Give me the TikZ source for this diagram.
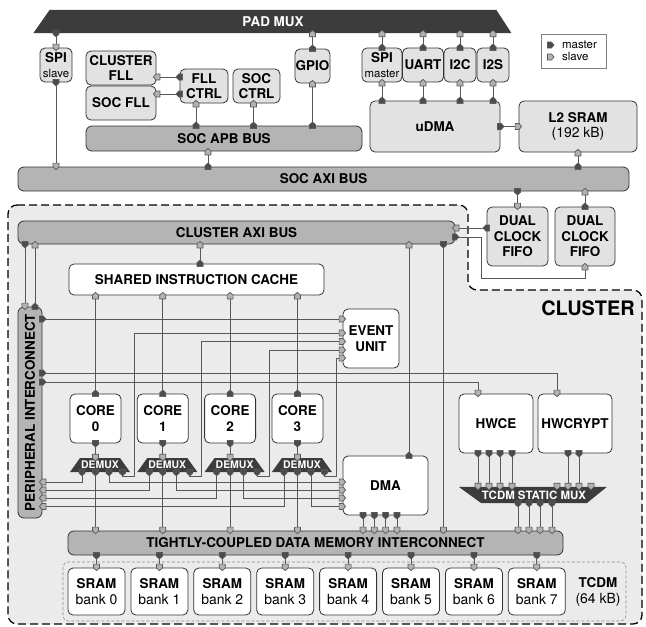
\documentclass[tikz,border=0pt]{standalone}
\usepackage{fontspec}
\setmainfont{TeX Gyre Heros}
\usetikzlibrary{arrows.meta,shapes.geometric}

\newcommand\lbl{\fontsize{13.5}{15.7}\selectfont\bfseries}
\newcommand\sml{\fontsize{11.5}{12}\selectfont\mdseries}
\newcommand\bnk{\fontsize{14}{17}\selectfont\mdseries}

\definecolor{socgray}{HTML}{E2E2E2}
\definecolor{busgray}{HTML}{B4B4B4}
\definecolor{darkmux}{HTML}{3C3C3C}
\definecolor{clgray}{HTML}{EBEBEB}
\definecolor{wire}{HTML}{585858}

% port marker: square body with a point
\pgfdeclarearrow{
  name = Port,
  parameters = {\the\pgfarrowlength,\the\pgfarrowwidth},
  setup code = {
    \pgfarrowssettipend{0pt}
    \pgfarrowssetbackend{-\pgfarrowlength}
    \pgfarrowssetlineend{-.5\pgfarrowlength}
    \pgfarrowssavethe\pgfarrowlength
    \pgfarrowssavethe\pgfarrowwidth
  },
  drawing code = {
    \pgfpathmoveto{\pgfqpoint{0pt}{0pt}}
    \pgfpathlineto{\pgfqpoint{-.4\pgfarrowlength}{.5\pgfarrowwidth}}
    \pgfpathlineto{\pgfqpoint{-\pgfarrowlength}{.5\pgfarrowwidth}}
    \pgfpathlineto{\pgfqpoint{-\pgfarrowlength}{-.5\pgfarrowwidth}}
    \pgfpathlineto{\pgfqpoint{-.4\pgfarrowlength}{-.5\pgfarrowwidth}}
    \pgfpathclose
    \pgfusepathqfillstroke
  },
  defaults = {length=6.5bp, width=6bp}
}

\tikzset{
  socbox/.style={draw=black!80,fill=socgray,rounded corners=5bp,inner sep=0pt,align=center,font=\lbl,line width=0.8bp},
  clbox/.style={socbox,fill=white},
  bus/.style={draw=black!80,fill=busgray,rounded corners=6bp,inner sep=0pt,font=\lbl,line width=0.8bp},
  mux/.style={trapezium,trapezium stretches body,fill=darkmux,text=white,inner xsep=0pt},
  ms/.style={draw=wire,line width=0.7bp,shorten <=-3bp,shorten >=-3bp,
    arrows={{Port[reversed,fill=black!70]}-{Port[fill=black!30]}}},
  sport/.style={draw=wire,line width=0.7bp,-{Port[fill=black!30]}},
  mport/.style={draw=wire,line width=0.7bp,-{Port[fill=black!70]}},
}

\begin{document}
\begin{tikzpicture}

\useasboundingbox (0bp,0bp) rectangle (646bp,-627bp);

% cluster area
\draw [fill=clgray,line width=1.3bp,dash pattern=on 8bp off 4bp,rounded corners=9bp] (8bp,-205bp) -- (468bp,-205bp) -- (468bp,-290bp) -- (642bp,-290bp) -- (642bp,-624bp) -- (8bp,-624bp) -- cycle;
\draw [draw=black!45,line width=0.6bp,dash pattern=on 3bp off 2bp,rounded corners=5bp] (63bp,-562bp) rectangle (626bp,-621bp);
\node (CLU) at (588bp,-308bp)[font=\fontsize{20}{22}\selectfont\bfseries] {CLUSTER};

% SoC
\node (PAD) at (273bp,-21.5bp)[mux,inner ysep=6.6bp,trapezium left angle=55,trapezium right angle=57,minimum width=478bp,minimum height=23bp,font=\lbl] {PAD MUX};
\node (SPIS) at (56bp,-65bp)[socbox,minimum width=32bp,minimum height=34bp] {SPI\\{\sml slave}};
\node (CFLL) at (121bp,-68bp)[socbox,minimum width=70bp,minimum height=34bp] {CLUSTER\\FLL};
\node (SFLL) at (121bp,-103bp)[socbox,minimum width=70bp,minimum height=34bp] {SOC FLL};
\node (FLLC) at (204bp,-86bp)[socbox,minimum width=48bp,minimum height=34bp] {FLL\\CTRL};
\node (SOCC) at (256.5bp,-86bp)[socbox,minimum width=47bp,minimum height=34bp] {SOC\\CTRL};
\node (GPIO) at (312.5bp,-66bp)[socbox,minimum width=35bp,minimum height=34bp] {GPIO};
\node (APB) at (224bp,-138.5bp)[bus,minimum width=276bp,minimum height=25bp] {SOC APB BUS};
\node (SPIM) at (382bp,-65bp)[socbox,minimum width=40bp,minimum height=34bp] {SPI\\{\sml master}};
\node (UART) at (423bp,-65bp)[socbox,minimum width=41bp,minimum height=34bp] {UART};
\node (I2C) at (460bp,-65bp)[socbox,minimum width=32bp,minimum height=34bp] {I2C};
\node (I2S) at (493bp,-65bp)[socbox,minimum width=32bp,minimum height=34bp] {I2S};
\node (UDMA) at (435bp,-126.5bp)[socbox,minimum width=130bp,minimum height=51bp] {uDMA};
\node (L2) at (578bp,-126.5bp)[socbox,minimum width=118bp,minimum height=51bp] {L2 SRAM\\{\bnk (192 kB)}};
\node (AXI) at (323.5bp,-179bp)[bus,minimum width=611bp,minimum height=24bp] {SOC AXI BUS};
\node (FIFO1) at (517.5bp,-236.5bp)[socbox,minimum width=61bp,minimum height=59bp] {DUAL\\CLOCK\\FIFO};
\node (FIFO2) at (585bp,-236.5bp)[socbox,minimum width=60bp,minimum height=59bp] {DUAL\\CLOCK\\FIFO};
\node (LEG) at (573.5bp,-51bp)[draw=black!50,fill=white,minimum width=65bp,minimum height=34bp] {};
\node (LEGT) at ([xshift=6bp]LEG.center)[font=\sml,align=left,inner sep=0pt] {master\\slave};

% cluster
\node (CAXI) at (236.5bp,-232.5bp)[bus,minimum width=437bp,minimum height=23bp] {CLUSTER AXI BUS};
\node (CACHE) at (196.5bp,-279.5bp)[clbox,minimum width=255bp,minimum height=31bp] {SHARED INSTRUCTION CACHE};
\node (PIC) at (30bp,-412.5bp)[bus,minimum width=24bp,minimum height=211bp,label={[rotate=90,font=\lbl]center:PERIPHERAL INTERCONNECT}] {};
\node (EVU) at (371bp,-338.5bp)[clbox,minimum width=56bp,minimum height=59bp] {EVENT\\UNIT};
\foreach \i/\xc in {0/95.5,1/162.8,2/230.1,3/297.4}{
  \node (CORE\i) at (\xc bp,-418.5bp)[clbox,minimum width=51bp,minimum height=49bp] {CORE\\\i};
  \fill [darkmux] (\xc bp-25.5bp,-472bp) -- (\xc bp+34.5bp,-472bp) -- (\xc bp+24.5bp,-458bp) -- (\xc bp-15.5bp,-458bp) -- cycle;
  \node (DMX\i) at (\xc bp+4.5bp,-465bp)[inner sep=0pt,minimum width=60bp,minimum height=14bp,text=white,font=\fontsize{10.5}{11}\selectfont\bfseries] {DEMUX};
}
\node (DMA) at (385.5bp,-485.5bp)[clbox,minimum width=85bp,minimum height=59bp] {DMA};
\node (HWCE) at (496bp,-423.5bp)[clbox,minimum width=74bp,minimum height=59bp] {HWCE};
\node (HWCRYPT) at (575bp,-423.5bp)[clbox,minimum width=74bp,minimum height=59bp] {HWCRYPT};
\node (SMUX) at (534bp,-495bp)[mux,inner ysep=3.8bp,trapezium left angle=144,trapezium right angle=141,minimum width=148bp,minimum height=16bp,font=\fontsize{11.5}{12}\selectfont\bfseries] {TCDM STATIC MUX};
\node (TCDM) at (315.5bp,-543bp)[bus,minimum width=495bp,minimum height=24bp] {TIGHTLY-COUPLED DATA MEMORY INTERCONNECT};
\foreach \i in {0,...,7}{
  \node (SRAM\i) at (96.5bp+62.9bp*\i,-591.5bp)[clbox,minimum width=57bp,minimum height=47bp] {SRAM\\{\bnk bank \i}};
}
\node (TCDML) at (598bp,-592bp)[font=\lbl,align=center] {TCDM\\{\bnk (64 kB)}};

% ports on the left of DMA and EVENT UNIT
\foreach \i/\ry/\ey in {0/3.5/5.5,1/-4.5/-3,2/-12.5/-11.5,3/-21/-19.5}{
  \coordinate (DR\i) at ([yshift=\ry bp]DMA.west);
  \coordinate (ER\i) at ([yshift=\ey bp]EVU.west);
}
\coordinate (ER4) at ([yshift=19.5bp]EVU.west);

% SoC links
\draw [ms] (PAD.south -| SPIS.north) -- (SPIS.north);
\draw [ms] (SPIS.south) -- (SPIS.south |- AXI.north);
\draw [ms] ([yshift=9bp]FLLC.west) -- ([yshift=9bp]FLLC.west -| CFLL.east);
\draw [ms] ([yshift=-8bp]FLLC.west) -- ([yshift=-8bp]FLLC.west -| SFLL.east);
\draw [ms] ([xshift=-8bp]FLLC.south |- APB.north) -- ([xshift=-8bp]FLLC.south);
\draw [ms] ([xshift=-3bp]SOCC.south |- APB.north) -- ([xshift=-3bp]SOCC.south);
\draw [ms] (GPIO.south |- APB.north) -- (GPIO.south);
\draw [ms] (GPIO.north) -- (GPIO.north |- PAD.south);
\draw [ms] ([xshift=-16bp]APB.south |- AXI.north) -- ([xshift=-16bp]APB.south);
\foreach \p in {SPIM,UART,I2C,I2S}{
  \draw [ms] (\p.north) -- (\p.north |- PAD.south);
  \draw [ms] (\p.south |- UDMA.north) -- (\p.south);
}
\draw [ms] (UDMA.east) -- (L2.west);
\draw [ms] (L2.south |- AXI.north) -- (L2.south);
\draw [ms] (FIFO1.north |- AXI.south) -- (FIFO1.north);
\draw [ms] (FIFO2.north) -- (FIFO2.north |- AXI.south);
\draw [ms] ([yshift=8.5bp]FIFO1.west) -- ([yshift=8.5bp]FIFO1.west -| CAXI.east);
\draw [ms] ([yshift=-4.5bp]CAXI.east) -| ([xshift=-5bp]FIFO1.south west) |- ([yshift=-12bp]FIFO2.south) -- (FIFO2.south);

% cluster links
\draw [ms] ([xshift=-5bp]PIC.north |- CAXI.south) -- ([xshift=-5bp]PIC.north);
\draw [ms] ([xshift=5bp]PIC.north) -- ([xshift=5bp]PIC.north |- CAXI.south);
\draw [ms] ([xshift=3.5bp]CACHE.north) -- ([xshift=3.5bp]CACHE.north |- CAXI.south);
\draw [ms] (ER4 -| PIC.east) -- (ER4);
\draw [ms] ([yshift=39.5bp]PIC.east) -| ([xshift=-18bp]HWCRYPT.north);
\draw [ms] ([yshift=30.5bp]PIC.east) -| ([xshift=-18bp]HWCE.north);
\foreach \i in {0,...,3}{
  \draw [ms] (CORE\i.north) -- (CORE\i.north |- CACHE.south);
  \draw [ms] (CORE\i.south) -- (CORE\i.south |- DMX\i.north);
  \draw [ms] ([xshift=-18bp]DMX\i.south) |- (DR\i -| PIC.east);
  \draw [ms] ([xshift=-4.5bp]DMX\i.south) -- ([xshift=-4.5bp]DMX\i.south |- TCDM.north);
  \draw [ms] ([xshift=9bp]DMX\i.south) |- (DR\i);
  \draw [ms] ([xshift=22.5bp]DMX\i.south) |- ([xshift=34.5bp,yshift=-4bp]DMX\i.south) |- (ER\i);
}
\draw [ms] ([xshift=23.5bp]DMA.north) -- ([xshift=23.5bp]DMA.north |- CAXI.south);
\draw [ms] ([xshift=15bp]DMA.east |- CAXI.south) -- ([xshift=15bp]DMA.east |- TCDM.north);
\foreach \dx in {-22.5,-11.2,0.1,11.4}
  \draw [ms] ([xshift=\dx bp]DMA.south) -- ([xshift=\dx bp]DMA.south |- TCDM.north);
\foreach \dx in {-18,-7,4,16}
  \draw [ms] ([xshift=\dx bp]HWCE.south) -- ([xshift=\dx bp]HWCE.south |- SMUX.north);
\foreach \dx in {-7,4}
  \draw [ms] ([xshift=\dx bp]HWCRYPT.south) -- ([xshift=\dx bp]HWCRYPT.south |- SMUX.north);
\foreach \dx/\n in {-18/1,16/2}{
  \coordinate (SP\n) at ([xshift=\dx bp]HWCRYPT.south |- SMUX.north);
  \draw [sport,shorten >=-3bp] ([yshift=3.5bp]SP\n) -- (SP\n);
}
\foreach \dx in {-16,-5,6,18}
  \draw [ms] ([xshift=\dx bp]SMUX.south) -- ([xshift=\dx bp]SMUX.south |- TCDM.north);
\foreach \i in {0,...,7}
  \draw [ms] (SRAM\i.north |- TCDM.south) -- (SRAM\i.north);

% legend marks
\draw [mport] ([xshift=-26bp,yshift=6bp]LEG.center) -- ([xshift=-19.5bp,yshift=6bp]LEG.center);
\draw [sport] ([xshift=-26bp,yshift=-6bp]LEG.center) -- ([xshift=-19.5bp,yshift=-6bp]LEG.center);

\end{tikzpicture}
\end{document}
